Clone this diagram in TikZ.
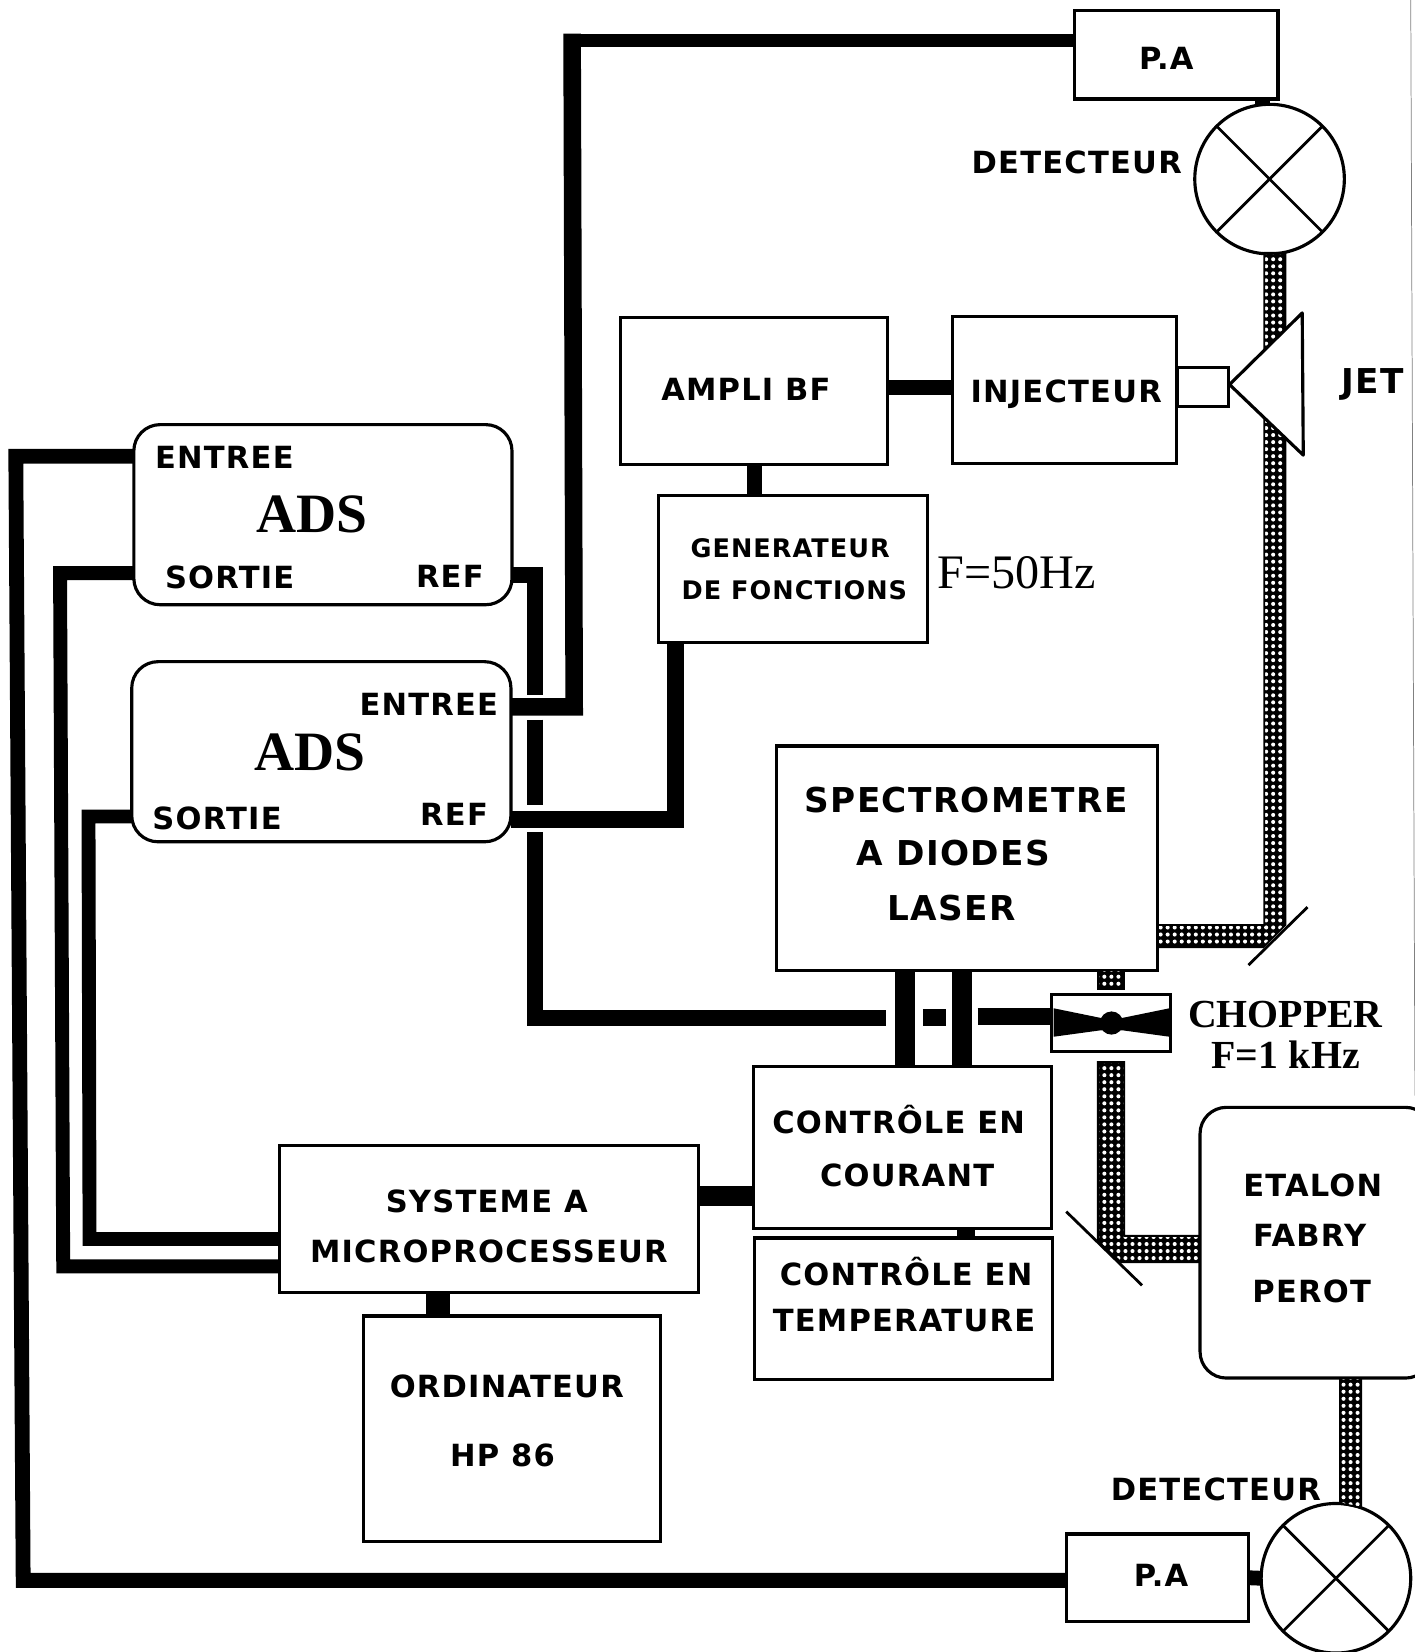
\documentclass[tikz,border=0pt]{standalone}
\usepackage{fontspec}
\setmainfont{Liberation Serif}
\newfontfamily\blockfont{DejaVu Sans}[LetterSpace=4]
\usetikzlibrary{patterns.meta}
\tikzset{
  box/.style={draw, line width=1.7pt, outer sep=0pt, inner sep=0pt},
  roundbox/.style={box, rounded corners=0.5cm},
  wire/.style={line width=#1, draw=black},
  wire/.default=8pt,
  beam/.style={preaction={fill=black}, draw=black, line width=1pt, pattern={Dots[distance=3.8pt,radius=1.1pt]}, pattern color=white},
  thinline/.style={line width=1.5pt},
  lab/.style={font=\blockfont\bfseries\fontsize{16.5}{18}\selectfont, inner sep=0pt},
  labsmall/.style={font=\blockfont\bfseries\fontsize{13.8}{16}\selectfont, inner sep=0pt},
  labbig/.style={font=\blockfont\bfseries\fontsize{18.5}{24}\selectfont, inner sep=0pt},
  labserif/.style={font=\bfseries\fontsize{21.5}{26}\selectfont, inner sep=0pt},
  labfreq/.style={font=\fontsize{26}{28}\selectfont, inner sep=0pt},
  labads/.style={font=\bfseries\fontsize{30}{32}\selectfont, inner sep=0pt},
}
\begin{document}
\begin{tikzpicture}[x=0.02cm,y=-0.02cm]
  \useasboundingbox (0,0) rectangle (1343,1568);
  % Coordinates
  \coordinate (T0) at (540,38);
  \coordinate (T1) at (543,32);
  \coordinate (T2) at (545,671);
  \coordinate (R1) at (508,546);
  \coordinate (R2) at (508,660);
  \coordinate (R3) at (508,683);
  \coordinate (R4) at (508,764);
  \coordinate (R5) at (508,790);
  \coordinate (R6) at (508,966);
  \coordinate (R7) at (841,966);
  \coordinate (R8) at (876,966);
  \coordinate (R9) at (898,966);
  \coordinate (R10) at (928,965);
  \coordinate (G1) at (641,778);
  \coordinate (L1) at (15,433);
  \coordinate (L2) at (22,1500);
  \coordinate (S1) at (57,544);
  \coordinate (S2) at (60,1202);
  \coordinate (U1) at (84,775);
  \coordinate (U2) at (85,1176);

  % Boxes
  \node[box, minimum width=3.86cm, minimum height=1.68cm] (patop) at (1116.5,52) {};
  \node[box, circle, minimum size=2.84cm] (dettop) at (1205,170) {};
  \node[box, minimum width=5.06cm, minimum height=2.80cm] (ampli) at (715.5,371) {};
  \node[box, minimum width=4.26cm, minimum height=2.80cm] (injecteur) at (1010.5,370) {};
  \node[box, minimum width=0.96cm, minimum height=0.74cm] (buse) at (1142,367.5) {};
  \node[box, minimum width=5.10cm, minimum height=2.80cm] (generateur) at (752.5,540) {};
  \node[roundbox, minimum width=7.18cm, minimum height=3.42cm] (adsa) at (306.5,488.5) {};
  \node[roundbox, minimum width=7.20cm, minimum height=3.42cm] (adsb) at (305,713.5) {};
  \node[box, minimum width=7.24cm, minimum height=4.26cm] (spectro) at (918,814.5) {};
  \node[box, minimum width=2.26cm, minimum height=1.08cm] (chopper) at (1054.5,971) {};
  \node[box, minimum width=5.66cm, minimum height=3.08cm] (courant) at (856.5,1089) {};
  \node[box, minimum width=5.66cm, minimum height=2.68cm] (temperature) at (857.5,1242) {};
  \node[box, minimum width=7.96cm, minimum height=2.80cm] (micro) at (464,1157) {};
  \node[box, minimum width=5.64cm, minimum height=4.28cm] (ordinateur) at (486,1356) {};
  \node[roundbox, minimum width=4.40cm, minimum height=5.14cm] (etalon) at (1249,1179.5) {};
  \node[box, minimum width=3.46cm, minimum height=1.66cm] (pabot) at (1098.5,1497.5) {};
  \node[box, circle, minimum size=2.84cm] (detbot) at (1268,1498) {};

  % Cross in the detectors
  \draw[thinline] (dettop.north west) -- (dettop.south east);
  \draw[thinline] (dettop.north east) -- (dettop.south west);
  \draw[thinline] (detbot.north west) -- (detbot.south east);
  \draw[thinline] (detbot.north east) -- (detbot.south west);

  % Wires
  \draw[wire=7pt] (patop.west |- T0) -- (T0);
  \draw[wire=9.5pt] (T1) -- (T2) -- (adsb.east |- T2);
  \draw[wire=8pt] (patop.south -| 1198,0) -- (dettop.north -| 1198,0);
  \draw[wire=8pt] (ampli.east |- 0,368) -- (injecteur.west |- 0,368);
  \draw[wire=8.5pt] (ampli.south -| 716,0) -- (generateur.north -| 716,0);
  \draw[wire=9pt] (generateur.south -| G1) -- (G1) -- (adsb.east |- G1);
  \draw[wire=8.5pt] (adsa.east |- R1) -- (R1) -- (R2);
  \draw[wire=8.5pt] (R3) -- (R4);
  \draw[wire=8.5pt] (R5) -- (R6) -- (R7);
  \draw[wire=9pt] (R8) -- (R9);
  \draw[wire=9pt] (R10) -- (chopper.west |- R10);
  \draw[wire=8pt] (adsa.west |- L1) -- (L1) -- (L2) -- (pabot.west |- L2);
  \draw[wire=7.5pt] (adsa.west |- S1) -- (S1) -- (S2) -- (micro.west |- S2);
  \draw[wire=7.5pt] (adsb.west |- U1) -- (U1) -- (U2) -- (micro.west |- U2);
  \draw[wire=11pt] (spectro.south -| 859,0) -- (courant.north -| 859,0);
  \draw[wire=11pt] (spectro.south -| 913,0) -- (courant.north -| 913,0);
  \draw[wire=10.5pt] (micro.east |- 0,1135) -- (courant.west |- 0,1135);
  \draw[wire=10pt] (courant.south -| 917,0) -- (temperature.north -| 917,0);
  \draw[wire=13pt] (micro.south -| 416,0) -- (ordinateur.north -| 416,0);
  \draw[wire=8pt] (pabot.east) -- (detbot.west);

  % Beams
  \path[beam] (spectro.east |- 0,878) -- (1200,878) -- (1200,240) -- (1220,240) -- (1220,878) -- (1199,899) -- (spectro.east |- 0,899) -- cycle;
  \path[beam] (1042,921) rectangle (1067,939);
  \path[beam] (1042,1008) -- (1067,1008) -- (1067,1173) -- (etalon.west |- 0,1173) -- (etalon.west |- 0,1198) -- (1064,1198) -- (1042,1178) -- cycle;
  \path[beam] (1272,1308) -- (1292,1308) -- (1292,1431) -- (1272,1427) -- cycle;

  % Jet, mirrors, chopper blade
  \draw[box, fill=white, line join=round] (1167,365) -- (1236,297) -- (1237,432) -- cycle;
  \draw[thinline] (1185,916) -- (1241,861);
  \draw[thinline] (1012,1150) -- (1084,1220);
  \fill (1000,957) -- (1044,966) -- (1066,966) -- (1110,957) -- (1110,984) -- (1066,978) -- (1044,978) -- (1000,984) -- cycle;
  \fill (1055,971) circle (11);
  \draw[gray, line width=0.4pt] (1339,0) -- (1343,1040);

  % Labels
  \node[lab] (tpa) at (1107,55) {P.A};
  \node[lab] (tdet) at (1022,154) {DETECTEUR};
  \node[lab] (tampli) at (708,370) {AMPLI BF};
  \node[lab] (tinj) at (1012,374) {INJECTEUR};
  \node[labbig] (tjet) at (1303,365) {JET};
  \node[labsmall] (tgena) at (750,520) {GENERATEUR};
  \node[labsmall] (tgenb) at (754,560) {DE FONCTIONS};
  \node[labfreq] (tfreq) at (965,544) {F=50Hz};
  \node[lab] (tina) at (213,434) {ENTREE};
  \node[labads] (tadsa) at (296,488) {ADS};
  \node[lab] (tsorta) at (218,548) {SORTIE};
  \node[lab] (trefa) at (427,547) {REF};
  \node[lab] (tinb) at (407,669) {ENTREE};
  \node[labads] (tadsb) at (294,714) {ADS};
  \node[lab] (tsortb) at (206,777) {SORTIE};
  \node[lab] (trefb) at (431,773) {REF};
  \node[labbig] (tspa) at (917,759) {SPECTROMETRE};
  \node[labbig] (tspb) at (905,810) {A DIODES};
  \node[labbig] (tspc) at (903,862) {LASER};
  \node[labserif] (tcha) at (1220,963) {CHOPPER};
  \node[labserif] (tchb) at (1220,1001) {F=1\;kHz};
  \node[lab] (tcoa) at (853,1063) {CONTRÔLE EN};
  \node[lab] (tcob) at (861,1116) {COURANT};
  \node[lab] (ttea) at (860,1207) {CONTRÔLE EN};
  \node[lab] (tteb) at (858,1253) {TEMPERATURE};
  \node[lab] (tmia) at (462,1140) {SYSTEME A};
  \node[lab] (tmib) at (464,1188) {MICROPROCESSEUR};
  \node[lab] (tora) at (481,1316) {ORDINATEUR};
  \node[lab] (torb) at (477,1381) {HP 86};
  \node[lab] (teta) at (1246,1125) {ETALON};
  \node[lab] (tetb) at (1243,1173) {FABRY};
  \node[lab] (tetc) at (1245,1226) {PEROT};
  \node[lab] (tdetb) at (1154,1414) {DETECTEUR};
  \node[lab] (tpb) at (1102,1495) {P.A};
\end{tikzpicture}
\end{document}
